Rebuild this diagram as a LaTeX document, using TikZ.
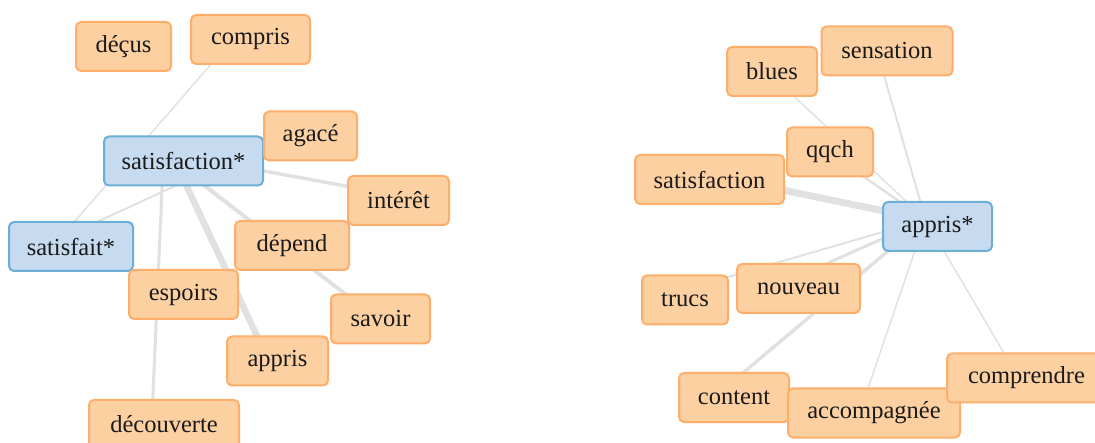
\documentclass[tikz,border=0pt]{standalone}
\usepackage{fontspec}
\setmainfont{Liberation Serif}
\usetikzlibrary{backgrounds}

\definecolor{termfill}{HTML}{FDD0A2}
\definecolor{termline}{HTML}{FDAE6B}
\definecolor{pivotfill}{HTML}{C6DBEF}
\definecolor{pivotline}{HTML}{6BAED6}
\definecolor{linkgray}{HTML}{E1E1E1}
\definecolor{inkcol}{HTML}{1A1A1A}

\tikzset{
  word/.style={draw=termline, fill=termfill, line width=2pt, rounded corners=5pt,
    minimum height=49pt, inner xsep=0pt, text=inkcol, font=\fontsize{24.5}{26}\selectfont},
  pivot/.style={word, draw=pivotline, fill=pivotfill},
  link/.style={draw=linkgray, line width=#1},
  link/.default=1.5pt
}
% links are anchored slightly up and to the left of each box centre
\newcommand\hook[1]{([shift={(-12,-7)}]#1.center)}

\begin{document}
\begin{tikzpicture}[x=1pt,y=-1pt]
\useasboundingbox (0,0) rectangle (1095,443);

% ---- left cluster
\path
  (123.5,46.5) node[word, minimum width=95pt]  (decus)   {déçus}
  (250.5,39.5) node[word, minimum width=119pt] (compris) {compris}
  (183.5,161)  node[pivot, minimum width=159pt] (satA)   {satisfaction*}
  (310.5,136)  node[word, minimum width=93pt]  (agace)   {agacé}
  (398.5,200.5) node[word, minimum width=101pt] (interet) {intérêt}
  (71,246.5)   node[pivot, minimum width=124pt] (satfait) {satisfait*}
  (292,245.5)  node[word, minimum width=114pt] (depend)  {dépend}
  (183.5,294.5) node[word, minimum width=109pt] (espoirs) {espoirs}
  (380.5,319)  node[word, minimum width=99pt]  (savoir)  {savoir}
  (277.5,361)  node[word, minimum width=101pt] (appris)  {appris}
  (164,424.5)  node[word, minimum width=150pt] (decouv)  {découverte};

% ---- right cluster
\path
  (887,51)     node[word, minimum width=131pt] (sensation) {sensation}
  (772,71.5)   node[word, minimum width=90pt]  (blues)     {blues}
  (830,152)    node[word, minimum width=86pt]  (qqch)      {qqch}
  (709.5,179.5) node[word, minimum width=149pt] (satB)     {satisfaction}
  (937.5,226.5) node[pivot, minimum width=109pt] (apprisB) {appris*}
  (685,300)    node[word, minimum width=86pt]  (trucs)     {trucs}
  (798.5,288.5) node[word, minimum width=123pt] (nouveau)  {nouveau}
  (734,397.5)  node[word, minimum width=110pt] (content)   {content}
  (874,413)    node[word, minimum width=172pt] (accomp)    {accompagnée}
  (1026.5,378) node[word, minimum width=159pt] (comprendre) {comprendre};

% ---- links, underneath the boxes
\begin{pgfonlayer}{background}
  \draw[link=1.5pt] \hook{compris} -- \hook{satfait};
  \draw[link=2pt]   \hook{agace}   -- \hook{satfait};
  \draw[link=3pt]   ([shift={(-20,-7)}]satA.center) -- \hook{decouv};
  \draw[link=6.5pt] \hook{satA}    -- \hook{appris};
  \draw[link=4pt]   ([shift={(-20,-7)}]satA.center) -- \hook{savoir};
  \draw[link=3.5pt] \hook{satA}    -- \hook{interet};

  \draw[link=2pt]   \hook{sensation} -- \hook{apprisB};
  \draw[link=1.5pt] \hook{blues}     -- \hook{apprisB};
  \draw[link=2.5pt] \hook{qqch}      -- \hook{apprisB};
  \draw[link=7pt]   \hook{satB}      -- \hook{apprisB};
  \draw[link=2pt]   \hook{apprisB}   -- \hook{trucs};
  \draw[link=3pt]   \hook{apprisB}   -- \hook{nouveau};
  \draw[link=3.5pt] \hook{apprisB}   -- \hook{content};
  \draw[link=1.5pt] \hook{apprisB}   -- \hook{accomp};
  \draw[link=1.5pt] \hook{apprisB}   -- \hook{comprendre};
\end{pgfonlayer}
\end{tikzpicture}
\end{document}
